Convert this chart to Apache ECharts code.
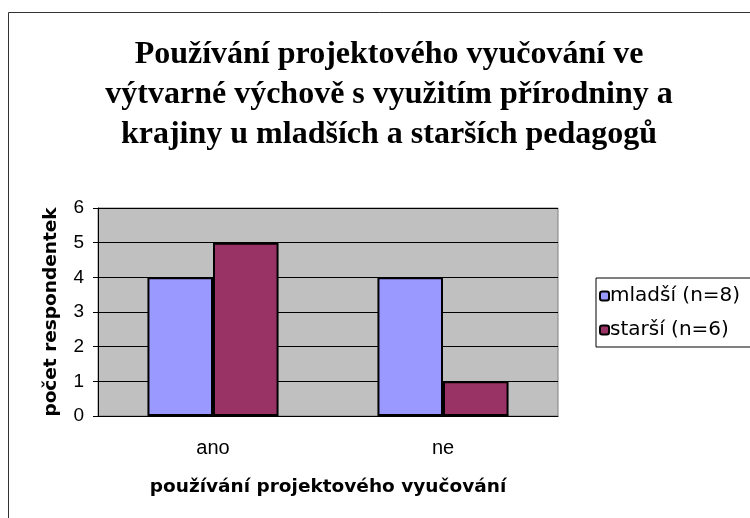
<!DOCTYPE html>
<html>
<head>
  <meta charset="UTF-8">
  <title>Používání projektového vyučování</title>
  <script src="https://cdn.jsdelivr.net/npm/echarts@6/dist/echarts.min.js"></script>
  <style>
    html, body { margin: 0; padding: 0; background: #fff; }
    #main { width: 750px; height: 518px; }
  </style>
</head>
<body>
<div id="main"></div>
<script type="text/javascript">
  // data
  var categories = ['ano', 'ne'];
  var mladsi = [4, 4];
  var starsi = [5, 1];
  var seriesNames = ['mladší (n=8)', 'starší (n=6)'];

  var sans = '"Liberation Sans", Arial, sans-serif';
  var wide = '"DejaVu Sans", Verdana, sans-serif';
  var serif = '"Liberation Serif", "Times New Roman", serif';

  var option = {
    backgroundColor: '#ffffff',
    animation: false,
    title: {
      text: 'Používání projektového vyučování ve\nvýtvarné výchově s využitím přírodniny a\nkrajiny u mladších a starších pedagogů',
      left: 384,
      top: 30,
      textAlign: 'center',
      textStyle: {
        fontFamily: serif,
        fontWeight: 'bold',
        fontSize: 32,
        lineHeight: 40,
        color: '#000'
      }
    },
    graphic: [{
      type: 'rect',
      shape: { x: 8.5, y: 12.5, width: 780, height: 540 },
      style: { fill: 'none', stroke: '#333', lineWidth: 1 },
      silent: true
    }],
    legend: {
      orient: 'vertical',
      left: 596,
      top: 278,
      padding: [8, 80, 7, 3],
      itemGap: 14,
      itemWidth: 9,
      itemHeight: 9,
      borderColor: '#000',
      borderWidth: 1,
      data: seriesNames,
      textStyle: { fontFamily: wide, fontSize: 20, color: '#000', padding: [0, 0, 0, -4] }
    },
    grid: {
      left: 98,
      top: 208,
      width: 460,
      height: 208,
      show: true,
      backgroundColor: '#c0c0c0',
      borderColor: '#808080',
      borderWidth: 1
    },
    xAxis: {
      type: 'category',
      data: categories,
      name: 'používání projektového vyučování',
      nameLocation: 'middle',
      nameGap: 62,
      nameTextStyle: { fontFamily: wide, fontWeight: 'bold', fontSize: 18.5, color: '#000' },
      axisLine: { lineStyle: { color: '#000', width: 1 } },
      axisTick: { length: 6, lineStyle: { color: '#000' } },
      axisLabel: { fontFamily: sans, fontSize: 20, color: '#000', margin: 22 }
    },
    yAxis: {
      type: 'value',
      min: 0,
      max: 6,
      interval: 1,
      name: 'počet respondentek',
      nameLocation: 'middle',
      nameGap: 37,
      nameTextStyle: { fontFamily: wide, fontWeight: 'bold', fontSize: 18.5, color: '#000' },
      axisLine: { show: true, lineStyle: { color: '#000', width: 1 } },
      axisTick: { show: true, length: 5, lineStyle: { color: '#000' } },
      axisLabel: { fontFamily: sans, fontSize: 19, color: '#000', margin: 14 },
      splitLine: { lineStyle: { color: '#000', width: 1 } }
    },
    series: [{
      name: seriesNames[0],
      type: 'bar',
      data: mladsi,
      barGap: '0%',
      barCategoryGap: '43%',
      itemStyle: { color: '#9999ff', borderColor: '#000', borderWidth: 2 }
    }, {
      name: seriesNames[1],
      type: 'bar',
      data: starsi,
      barGap: '0%',
      barCategoryGap: '43%',
      itemStyle: { color: '#993366', borderColor: '#000', borderWidth: 2 }
    }]
  };

  var myChart = echarts.init(document.getElementById('main'));
  myChart.setOption(option);
</script>
</body>
</html>
